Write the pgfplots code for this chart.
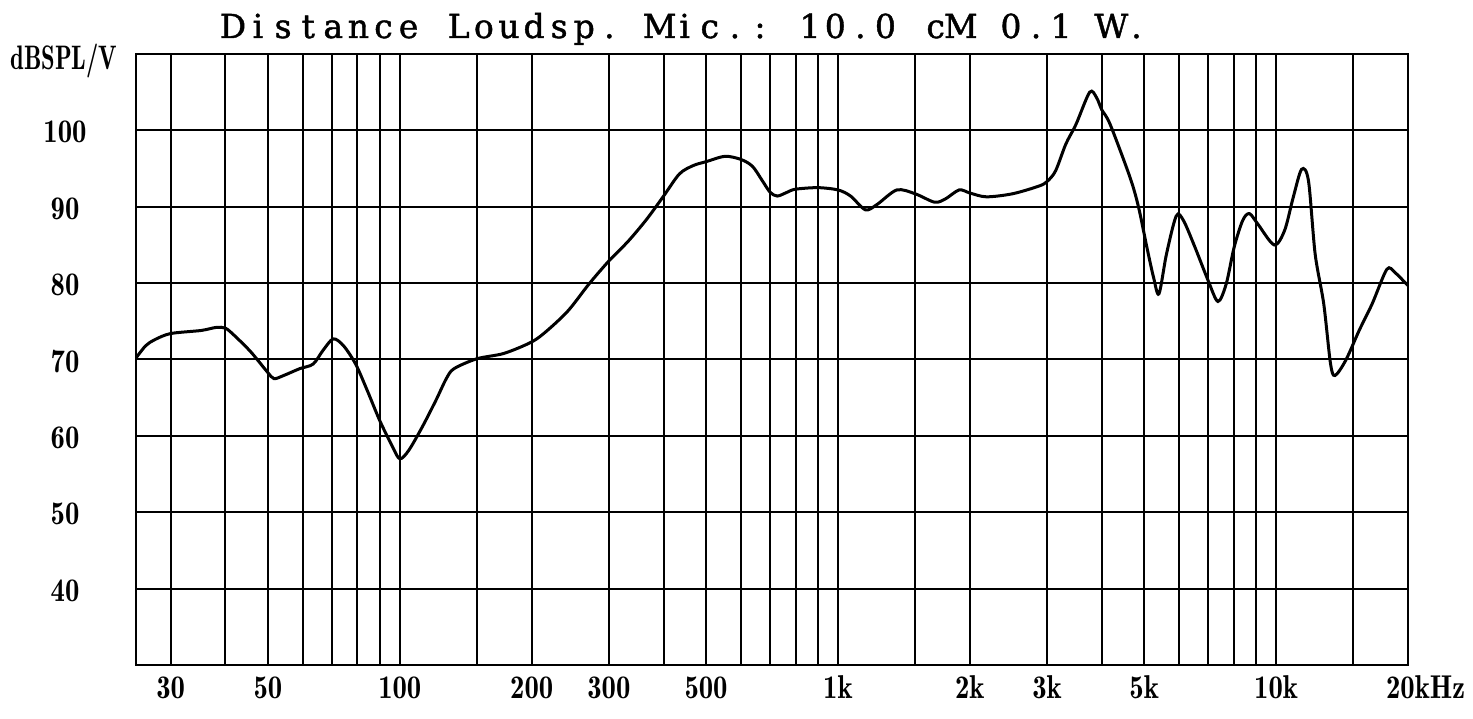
\documentclass[border=0pt]{standalone}
\usepackage{fontspec}
\usepackage{pgfplots}
\pgfplotsset{compat=1.18}
\newfontfamily\titlefont[FakeBold=1.3]{DejaVu Serif}

% frequency response (Hz, dBSPL/V)
\pgfplotstableread{
f v
25 70.2
26.3 71.8
27.6 72.6
30 73.4
35.2 73.8
38.1 74.2
40 74.1
42.0 73.1
45.7 71.0
49.8 68.4
51.6 67.5
54.3 67.9
59.1 68.8
63.4 69.4
66.8 71.2
70.5 72.7
74.4 71.8
79.3 69.4
84.2 66.0
90 62.0
96.2 58.6
100 57.0
104.8 58.1
112.6 61.2
121.0 64.7
127.7 67.5
133 68.8
150 70.1
172.9 70.8
200 72.3
217.1 73.8
242.3 76.4
270.4 79.9
300 82.9
332.3 85.5
366.4 88.4
400 91.4
434.7 94.3
467.8 95.4
500 95.9
552.1 96.6
600 96.2
637.9 95.3
672.2 93.4
700 91.9
727.1 91.4
765.9 91.9
800 92.3
900 92.5
1000 92.2
1068.6 91.4
1155 89.6
1228 90.3
1362.6 92.2
1500 91.7
1661 90.6
1756 91.0
1891 92.2
2000 91.8
2181 91.3
2503 91.7
2873 92.7
3000 93.3
3138 94.7
3311 98.2
3494 100.8
3754 105.0
3892 104.3
4000 102.7
4179 100.8
4643 93.8
4855 89.9
5070 84.7
5249 80.8
5402 78.6
5620 83.8
5917 88.8
6145 88.2
6528 84.7
7000 80.3
7368 77.6
7694 79.9
8020 84.7
8388 88.2
8690 89.1
9092 87.7
9902 85.0
10455 86.9
10937 91.2
11433 94.9
11853 93.4
12277 83.8
12842 77.3
13305 69.5
13620 67.9
14418 69.9
15470 73.8
16568 77.3
17890 81.8
18665 81.4
19826 79.9
20000 79.7
}\response

% narrow demi-bold labels
\newcommand{\lab}[1]{\scalebox{0.87}[1]{#1}}
% evenly pitched title letters
\makeatletter
\newcommand{\spaced}[1]{\@tfor\@c:=#1\do{\makebox[25.1pt]{\@c}}}
\makeatother

\begin{document}
\begin{tikzpicture}
\path[use as bounding box] (0pt,0pt) rectangle (1473pt,718pt);
\begin{axis}[
  at={(136pt,53pt)}, anchor=south west,
  scale only axis, width=1272pt, height=611pt,
  xmode=log, xmin=25, xmax=20000,
  ymin=30, ymax=110,
  xtick={30,40,50,60,70,80,90,100,150,200,300,400,500,600,700,800,900,1000,1500,2000,3000,4000,5000,6000,7000,8000,9000,10000,15000,20000},
  xticklabels={\lab{30},,\lab{50},,,,,\lab{100},,\lab{200},\lab{300},,\lab{500},,,,,\lab{1k},,\lab{2k},\lab{3k},,\lab{5k},,,,,\lab{10k},,\lab{20k}\rlap{\lab{Hz}}},
  ytick={40,50,60,70,80,90,100},
  yticklabels={\lab{40},\lab{50},\lab{60},\lab{70},\lab{80},\lab{90},\lab{100}},
  xminorticks=false, yminorticks=false,
  major tick length=0pt,
  grid=major,
  major grid style={black, line width=2pt},
  axis line style={black, line width=2.5pt},
  tick label style={font=\fontsize{33}{33}\fontfamily{lmr}\fontseries{b}\selectfont},
  xticklabel style={anchor=base, yshift=-33pt},
  yticklabel style={anchor=center, xshift=-71pt, yshift=-2pt},
]
\addplot[black, line width=3pt, smooth, tension=0.5] table[x=f, y=v] {\response};
\end{axis}
\node[anchor=base, inner sep=0pt] at (684.7pt,680pt)
  {\titlefont\fontsize{33}{33}\selectfont\spaced{Distance~Loudsp.~Mic.:~10.0~cM~0.1~W.}};
\node[anchor=center] at (64pt,657pt)
  {\scalebox{0.72}[1]{\fontsize{34}{34}\fontfamily{lmr}\fontseries{b}\selectfont dBSPL/V}};
\end{tikzpicture}
\end{document}
